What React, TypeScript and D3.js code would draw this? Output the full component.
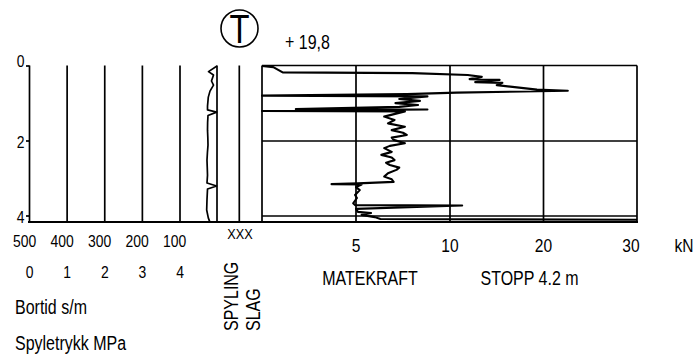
import React from "react";
import * as d3 from "d3";

// ---- data ----
const depthTicks = [0, 2, 4];
const bortidTicks = [500, 400, 300, 200, 100];
const pressureTicks = [0, 1, 2, 3, 4];
const forceTicks = [5, 10, 20, 30];

// Bortid (s/m) vs depth (m)
const bortidDepth = [0, 0.15, 0.24, 0.4, 0.51, 0.67, 0.83, 1.07, 1.17, 1.23, 1.32, 1.5, 1.71, 1.9, 2.11, 2.3, 2.51, 2.7, 2.91, 3.12, 3.2, 3.28, 3.57, 3.84, 4.05, 4.17];
const bortidValue = [0, 22.7, 9.3, 14.7, 9.3, 18.7, 23.2, 25.3, 25.3, 0.8, 24, 25, 25.3, 24.5, 24, 25.5, 26.7, 26, 25.3, 26.7, 0.8, 25.3, 26.7, 27.5, 23.2, 18.7];

// Matekraft (kN) vs depth (m)
const forceDepth = [0, 0.03, 0.17, 0.19, 0.24, 0.29, 0.35, 0.37, 0.43, 0.45, 0.51, 0.63, 0.66, 0.71, 0.75, 0.79, 0.81, 0.88, 0.93, 0.99, 1.04, 1.09, 1.15, 1.16, 1.2, 1.21, 1.35, 1.44, 1.53, 1.62, 1.71, 1.78, 1.84, 1.91, 1.97, 2.06, 2.13, 2.19, 2.29, 2.37, 2.44, 2.51, 2.58, 2.64, 2.71, 2.77, 2.86, 2.95, 3.02, 3.09, 3.13, 3.15, 3.16, 3.23, 3.31, 3.44, 3.52, 3.66, 3.71, 3.72, 3.81, 3.89, 3.92, 3.97, 4.03, 4.08, 4.1];
const forceKN = [0, 0.6, 1.1, 8.0, 11.9, 13.4, 12.1, 15.3, 12.7, 15.6, 15.0, 19.3, 22.6, 10.7, 7.7, 0, 8.8, 7.3, 8.4, 7.1, 8.3, 7.3, 1.8, 8.8, 0, 7.6, 6.5, 7.05, 6.7, 7.6, 6.9, 7.5, 7.7, 6.9, 7.0, 7.6, 6.8, 6.5, 6.9, 6.35, 6.9, 7.05, 6.6, 6.8, 7.3, 7.15, 6.7, 6.5, 6.9, 7.0, 5.1, 3.7, 5.3, 5.0, 5.2, 4.95, 5.05, 4.85, 4.95, 11.3, 5.0, 5.1, 5.8, 5.3, 6.0, 6.3, 30];

const FONT = "'Liberation Sans', Arial, sans-serif";
const SX = 0.82;

function Txt({ x, y, size = 19.5, anchor = "start", rot = 0, children }: any) {
  const t = `translate(${x},${y})${rot ? ` rotate(${rot})` : ""} scale(${SX},1)`;
  return (
    <text transform={t} textAnchor={anchor} fontSize={size} fill="#000">
      {children}
    </text>
  );
}

export default function App() {
  const W = 696, H = 361;
  const y = d3.scaleLinear().domain([0, 4.2]).range([66, 223.5]);
  const bx = d3.scaleLinear().domain([0, 500]).range([217, 29.5]);
  const px = d3.scaleLinear().domain([0, 4]).range([29.5, 180]);
  const fx = d3.scaleLinear().domain([0, 10, 20, 30]).range([262, 450, 543.5, 637]);

  const yTop = y(0) - 0.5;
  const yBot = y(4.2) - 1.5;
  const sw = 1.7;

  const bortidLine = d3.line<number>().x((_, i) => bx(bortidValue[i])).y((_, i) => y(bortidDepth[i]))(bortidDepth) || "";
  const forceLine = d3.line<number>().x((_, i) => fx(forceKN[i])).y((_, i) => y(forceDepth[i]))(forceDepth) || "";

  const vLinesLeft = [...pressureTicks.map((p) => px(p)), bx(0), 239.3];

  return (
    <svg width={W} height={H} style={{ position: "absolute", left: 0, top: 0, background: "#fff" }} fontFamily={FONT}>
      <rect width={W} height={H} fill="#fff" />
      {vLinesLeft.map((x, i) => (
        <line key={"vl" + i} x1={x} x2={x} y1={yTop} y2={yBot} stroke="#000" strokeWidth={sw} />
      ))}
      {depthTicks.map((d) => (
        <g key={"dt" + d}>
          <line x1={26} x2={px(0)} y1={y(d)} y2={y(d)} stroke="#000" strokeWidth={sw} />
          <Txt x={24.5} y={d === 0 ? y(d) + 1 : y(d) + 7} anchor="end" size={17}>{d}</Txt>
        </g>
      ))}
      {[0, ...forceTicks].map((k) => (
        <line key={"fg" + k} x1={fx(k)} x2={fx(k)} y1={yTop} y2={yBot} stroke="#000" strokeWidth={sw} />
      ))}
      {[0, 2, 4].map((d) => (
        <line key={"hg" + d} x1={fx(0)} x2={fx(30)} y1={d === 0 ? yTop : y(d)} y2={d === 0 ? yTop : y(d)} stroke="#000" strokeWidth={sw} />
      ))}
      <line x1={28} x2={638} y1={yBot} y2={yBot} stroke="#000" strokeWidth={2} />

      <path d={bortidLine} fill="none" stroke="#000" strokeWidth={1.7} strokeLinejoin="round" />
      <path d={forceLine} fill="none" stroke="#000" strokeWidth={2.1} strokeLinejoin="round" />

      <circle cx={239.5} cy={28.5} r={18.5} fill="none" stroke="#000" strokeWidth={1.6} />
      <Txt x={239.5} y={42.5} anchor="middle" size={40}>T</Txt>
      <Txt x={285} y={49} size={19.5}>+ 19,8</Txt>

      {bortidTicks.map((v) => (
        <Txt key={"bt" + v} x={bx(v) - 5} y={247} anchor="middle" size={17}>{v}</Txt>
      ))}
      {pressureTicks.map((p) => (
        <Txt key={"pt" + p} x={px(p)} y={278} anchor="middle" size={17}>{p}</Txt>
      ))}
      <Txt x={240} y={238.5} anchor="middle" size={15.5}>XXX</Txt>
      {forceTicks.map((k) => (
        <Txt key={"ft" + k} x={k === 30 ? fx(k) - 6 : fx(k)} y={252} anchor="middle" size={19}>{k}</Txt>
      ))}
      <Txt x={684} y={252} anchor="middle" size={19}>kN</Txt>
      <Txt x={370} y={285} anchor="middle" size={19.5}>MATEKRAFT</Txt>
      <Txt x={529.5} y={285} anchor="middle" size={19.5}>STOPP 4.2 m</Txt>
      <Txt x={15} y={314} size={19.5}>Bortid s/m</Txt>
      <Txt x={15} y={350} size={19.5}>Spyletrykk MPa</Txt>
      <Txt x={238} y={331} rot={-90} size={19.5}>SPYLING</Txt>
      <Txt x={260} y={331} rot={-90} size={19.5}>SLAG</Txt>
    </svg>
  );
}
